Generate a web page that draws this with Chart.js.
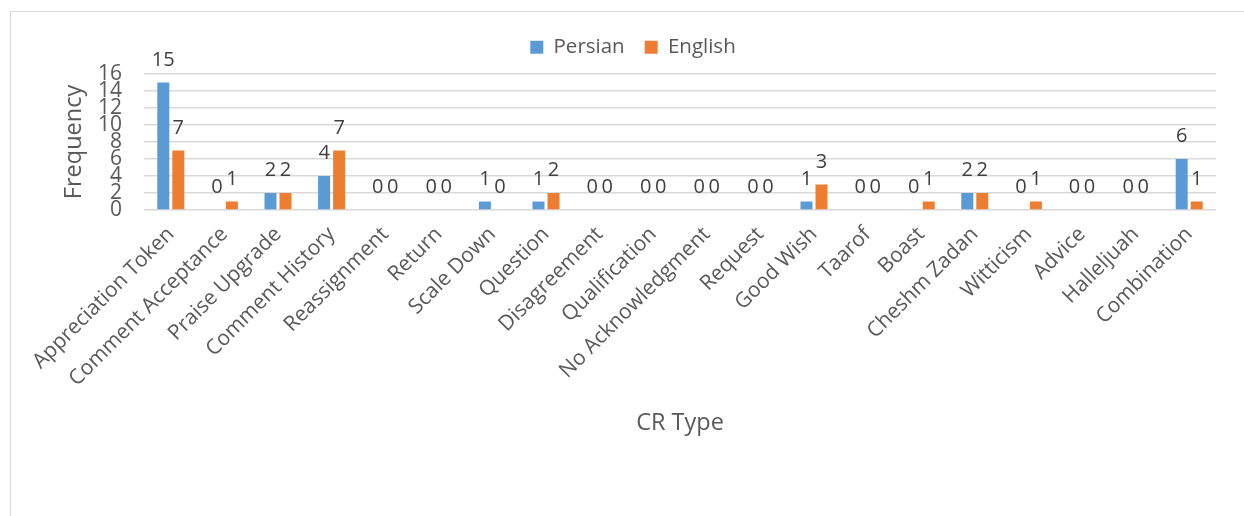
<!DOCTYPE html>
<html>
<head>
<meta charset="utf-8">
<script src="https://cdn.jsdelivr.net/npm/chart.js@4.4.1/dist/chart.umd.min.js"></script>
<style>
  html, body { margin: 0; padding: 0; background: #fff; }
  #wrap { position: relative; width: 1244px; height: 516px; overflow: hidden; }
  #frame { position: absolute; left: 10px; top: 11px; width: 1240px; height: 520px;
           border-left: 1.5px solid #d9d9d9; border-top: 1.5px solid #d9d9d9; }
  #crChart { position: absolute; left: 0; top: 0; }
</style>
</head>
<body>
<div id="wrap">
  <div id="frame"></div>
  <canvas id="crChart" width="1244" height="516"></canvas>
</div>
<script>
const crTypes = [
  'Appreciation Token', 'Comment Acceptance', 'Praise Upgrade', 'Comment History',
  'Reassignment', 'Return', 'Scale Down', 'Question', 'Disagreement', 'Qualification',
  'No Acknowledgment', 'Request', 'Good Wish', 'Taarof', 'Boast', 'Cheshm Zadan',
  'Witticism', 'Advice', 'Halleljuah', 'Combination'
];
const persian = [15, 0, 2, 4, 0, 0, 1, 1, 0, 0, 0, 0, 1, 0, 0, 2, 0, 0, 0, 6];
const english = [7, 1, 2, 7, 0, 0, 0, 2, 0, 0, 0, 0, 3, 0, 1, 2, 1, 0, 0, 1];

const FONT = '"Open Sans", "DejaVu Sans", sans-serif';

// value labels above each bar (Excel "outside end")
const valueLabels = {
  id: 'valueLabels',
  afterDatasetsDraw(chart) {
    const ctx = chart.ctx;
    ctx.save();
    ctx.font = '20px ' + FONT;
    ctx.fillStyle = '#404040';
    ctx.textAlign = 'center';
    ctx.textBaseline = 'alphabetic';
    chart.data.datasets.forEach((ds, i) => {
      chart.getDatasetMeta(i).data.forEach((bar, j) => {
        ctx.fillText(String(ds.data[j]), bar.x, bar.y - 17);
      });
    });
    ctx.restore();
  }
};

// a bit of extra room under the legend
const legendGap = {
  id: 'legendGap',
  beforeLayout(chart) {
    const lg = chart.legend;
    if (lg && !lg._gapPatched) {
      const fit = lg.fit;
      lg.fit = function () { fit.call(this); this.height += 6.5; };
      lg._gapPatched = true;
    }
  }
};

new Chart(document.getElementById('crChart'), {
  type: 'bar',
  data: {
    labels: crTypes,
    datasets: [
      { label: 'Persian', data: persian, backgroundColor: '#5b9bd5' },
      { label: 'English', data: english, backgroundColor: '#ed7d31' }
    ]
  },
  options: {
    responsive: false,
    animation: false,
    devicePixelRatio: 1,
    categoryPercentage: 0.56,
    barPercentage: 0.8,
    layout: { padding: { top: 17, left: 50, right: 28, bottom: 75 } },
    plugins: {
      tooltip: { enabled: false },
      legend: {
        position: 'top',
        labels: {
          color: '#595959',
          font: { family: FONT, size: 20.5 },
          boxWidth: 13,
          boxHeight: 13,
          padding: 20
        }
      }
    },
    scales: {
      x: {
        grid: { display: false },
        border: { display: false },
        ticks: {
          color: '#595959',
          font: { family: FONT, size: 21 },
          autoSkip: false,
          maxRotation: 45,
          minRotation: 45,
          padding: 4
        },
        title: {
          display: true,
          text: 'CR Type',
          color: '#595959',
          font: { family: FONT, size: 23.5 },
          padding: { top: 4, bottom: 4 }
        },
        afterFit(scale) { scale.height = 231; }
      },
      y: {
        min: 0,
        max: 16,
        grid: { color: '#d9d9d9', lineWidth: 1.5, drawTicks: false },
        border: { display: false },
        ticks: {
          stepSize: 2,
          autoSkip: false,
          color: '#595959',
          font: { family: FONT, size: 21 },
          padding: 22
        },
        title: {
          display: true,
          text: 'Frequency',
          color: '#595959',
          font: { family: FONT, size: 23.5 },
          padding: { top: 10, bottom: 0 }
        },
        afterFit(scale) { scale.width = 94; }
      }
    }
  },
  plugins: [valueLabels, legendGap]
});
</script>
</body>
</html>
